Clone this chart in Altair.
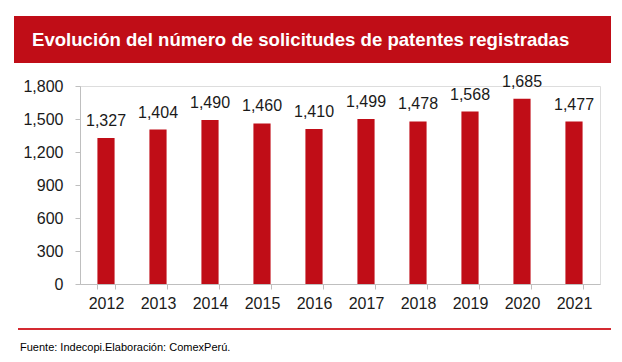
import altair as alt
import pandas as pd

years = ["2012", "2013", "2014", "2015", "2016", "2017", "2018", "2019", "2020", "2021"]
values = [1327, 1404, 1490, 1460, 1410, 1499, 1478, 1568, 1685, 1477]
y_ticks = [0, 300, 600, 900, 1200, 1500, 1800]
title_text = "Evolución del número de solicitudes de patentes registradas"
source_text = "Fuente: Indecopi.Elaboración: ComexPerú."

RED = "#C00D17"
FONT = "Liberation Sans"

df = pd.DataFrame({"year": years, "value": values})

x = alt.X("year:N", sort=years, title=None,
          scale=alt.Scale(paddingInner=0.67, paddingOuter=0.335),
          axis=alt.Axis(labelAngle=0, labelFontSize=16, labelFont=FONT, labelColor="#1a1a1a",
                        labelPadding=6, domainColor="#BFBFBF", tickColor="#BFBFBF",
                        tickSize=5, tickBand="extent", grid=False))
y = alt.Y("value:Q", title=None,
          scale=alt.Scale(domain=[0, 1800], nice=False),
          axis=alt.Axis(values=y_ticks, format=",d", labelFontSize=16, labelFont=FONT,
                        labelColor="#1a1a1a", labelPadding=12, domainColor="#BFBFBF",
                        tickColor="#BFBFBF", tickSize=5, grid=False, labelOverlap=False))

base = alt.Chart(df)
bars = base.mark_bar(color=RED).encode(x=x, y=y)
labels = base.mark_text(dy=-12, fontSize=16, font=FONT, color="#1a1a1a", baseline="alphabetic").encode(
    x=x, y=y, text=alt.Text("value:Q", format=","))

one = alt.Chart(pd.DataFrame({"t": [title_text], "s": [source_text]}))
banner = one.mark_rect(color=RED).encode(
    x=alt.value(-66), x2=alt.value(531), y=alt.value(-70), y2=alt.value(-23))
title = one.mark_text(align="left", baseline="alphabetic", fontSize=18.6, fontWeight="bold",
                      font=FONT, color="white").encode(
    x=alt.value(-48), y=alt.value(-40), text="t:N")
line = one.mark_rule(color="#D42A31", strokeWidth=2).encode(
    x=alt.value(-62), x2=alt.value(531), y=alt.value(243))
source = one.mark_text(align="left", baseline="alphabetic", fontSize=11, font=FONT,
                       color="#000000").encode(
    x=alt.value(-60), y=alt.value(265), text="s:N")

chart = alt.layer(bars, labels, banner, title, line, source).properties(
    width=520, height=198,
    autosize=alt.AutoSizeParams(type="none"),
    padding={"left": 72, "top": 78, "right": 14, "bottom": 70},
).configure_view(stroke=None).configure(background="white")

chart.save("out.html", embed_options={"renderer": "svg", "actions": False})
